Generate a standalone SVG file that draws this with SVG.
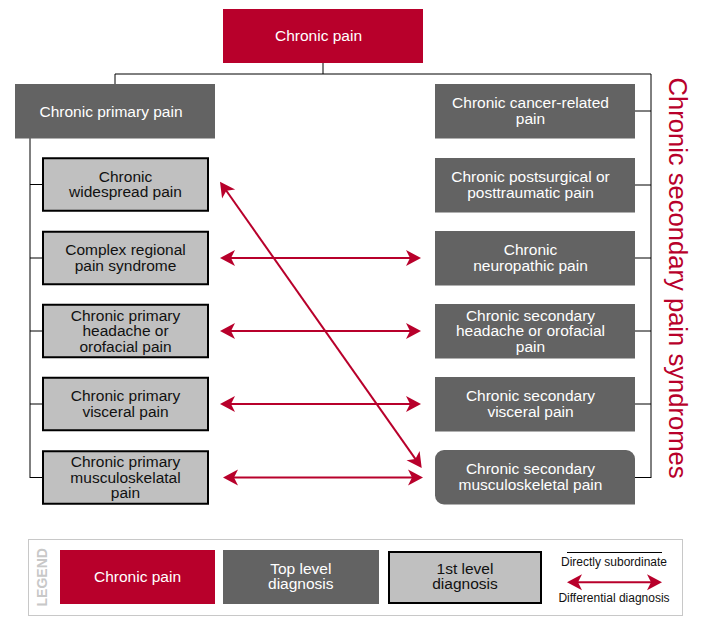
<svg xmlns="http://www.w3.org/2000/svg" width="714" height="624" viewBox="0 0 714 624">
<style>
text{font-family:"Liberation Sans",Arial,Helvetica,sans-serif;font-size:15.5px;text-anchor:middle}
.red{fill:#b8002b}
.dark{fill:#636363}
.light{fill:#c0c0c0;stroke:#000;stroke-width:2}
.w{fill:#fff}
.k{fill:#111}
.tree{stroke:#000;stroke-width:1;fill:none}
.dd{stroke:#b8002b;stroke-width:2;fill:none;marker-start:url(#ah);marker-end:url(#ah)}
.small{font-size:12px;fill:#111}
</style>
<defs>
<marker id="ah" markerUnits="userSpaceOnUse" viewBox="-16 -9 20 18" markerWidth="20" markerHeight="18" refX="-4" refY="0" orient="auto-start-reverse">
<path d="M0,0 L-15,-8 L-11,0 L-15,8 Z" fill="#b8002b"/>
</marker>
</defs>

<g id="connectors">
<path class="tree" d="M323,63 V74 M115,84 V74 H651 V478 M635,111 H651 M635,185 H651 M635,258 H651 M635,331 H651 M635,404 H651 M635,477.5 H651"/>
<path class="tree" d="M30,138 V478 M30,184.5 H42 M30,258 H42 M30,331 H42 M30,404 H42 M30,477.5 H42"/>
<line class="dd" x1="222.3" y1="185" x2="419.4" y2="464.7"/>
<line class="dd" x1="224" y1="258" x2="417" y2="258"/>
<line class="dd" x1="224" y1="331" x2="417" y2="331"/>
<line class="dd" x1="224" y1="404" x2="417" y2="404"/>
<line class="dd" x1="227" y1="477.5" x2="419" y2="477.5"/>
</g>

<g id="chronic-pain">
<rect class="red" x="223" y="9" width="200" height="54"/>
<text class="w" x="318.5" y="41">Chronic pain</text>
</g>

<g id="chronic-primary-pain">
<rect class="dark" x="15" y="84" width="200" height="54.5"/>
<text class="w" x="111" y="116.5">Chronic primary pain</text>
</g>

<g id="widespread">
<rect class="light" x="43" y="158.25" width="165" height="52.5"/>
<text class="k" x="125.5" y="181.6">Chronic</text>
<text class="k" x="125.5" y="197.3">widespread pain</text>
</g>
<g id="crps">
<rect class="light" x="43" y="231.75" width="165" height="52.5"/>
<text class="k" x="125.5" y="255.2">Complex regional</text>
<text class="k" x="125.5" y="270.9">pain syndrome</text>
</g>
<g id="primary-headache">
<rect class="light" x="43" y="304.75" width="165" height="52.5"/>
<text class="k" x="125.5" y="320.5">Chronic primary</text>
<text class="k" x="125.5" y="336.2">headache or</text>
<text class="k" x="125.5" y="351.9">orofacial pain</text>
</g>
<g id="primary-visceral">
<rect class="light" x="43" y="377.75" width="165" height="52.5"/>
<text class="k" x="125.5" y="401.2">Chronic primary</text>
<text class="k" x="125.5" y="416.9">visceral pain</text>
</g>
<g id="primary-msk">
<rect class="light" x="43" y="451.25" width="165" height="52.5"/>
<text class="k" x="125.5" y="467">Chronic primary</text>
<text class="k" x="125.5" y="482.7">musculoskelatal</text>
<text class="k" x="125.5" y="498.4">pain</text>
</g>

<g id="cancer">
<rect class="dark" x="435" y="84" width="200" height="54.5"/>
<text class="w" x="530.5" y="108.3">Chronic cancer-related</text>
<text class="w" x="530.5" y="124">pain</text>
</g>
<g id="postsurgical">
<rect class="dark" x="435" y="158" width="200" height="54.5"/>
<text class="w" x="530.5" y="182.1">Chronic postsurgical or</text>
<text class="w" x="530.5" y="197.8">posttraumatic pain</text>
</g>
<g id="neuropathic">
<rect class="dark" x="435" y="231" width="200" height="54.5"/>
<text class="w" x="530.5" y="255.2">Chronic</text>
<text class="w" x="530.5" y="270.9">neuropathic pain</text>
</g>
<g id="secondary-headache">
<rect class="dark" x="435" y="304" width="200" height="54.5"/>
<text class="w" x="530.5" y="320.5">Chronic secondary</text>
<text class="w" x="530.5" y="336.2">headache or orofacial</text>
<text class="w" x="530.5" y="351.9">pain</text>
</g>
<g id="secondary-visceral">
<rect class="dark" x="435" y="377" width="200" height="54.5"/>
<text class="w" x="530.5" y="401.2">Chronic secondary</text>
<text class="w" x="530.5" y="416.9">visceral pain</text>
</g>
<g id="secondary-msk">
<path class="dark" d="M444,450 H626 A9,9 0 0 1 635,459 V504.5 H444 A9,9 0 0 1 435,495.5 V459 A9,9 0 0 1 444,450 Z"/>
<text class="w" x="530.5" y="474.2">Chronic secondary</text>
<text class="w" x="530.5" y="489.9">musculoskeletal pain</text>
</g>

<g id="secondary-title">
<text class="red" transform="translate(668.5,278) rotate(90)" x="0" y="0" style="font-size:25.6px" textLength="401" lengthAdjust="spacingAndGlyphs">Chronic secondary pain syndromes</text>
</g>

<g id="legend">
<rect x="28.5" y="539.5" width="654" height="76" fill="none" stroke="#c8c8c8" stroke-width="1"/>
<text transform="translate(46.5,577.3) rotate(-90)" x="0" y="0" style="font-size:14px;font-weight:bold;fill:#c8c8c8">LEGEND</text>
<rect class="red" x="60" y="550" width="155" height="54"/>
<text class="w" x="137.5" y="582">Chronic pain</text>
<rect class="dark" x="223" y="550" width="156" height="54"/>
<text class="w" x="300.8" y="573.8">Top level</text>
<text class="w" x="300.8" y="589.3">diagnosis</text>
<rect class="light" x="389" y="552" width="152" height="51"/>
<text class="k" x="465" y="573.8">1st level</text>
<text class="k" x="465" y="589.3">diagnosis</text>
<line class="tree" x1="567" y1="552.5" x2="662" y2="552.5"/>
<text class="small" x="614" y="565.7">Directly subordinate</text>
<line class="dd" x1="571" y1="582.3" x2="658" y2="582.3"/>
<text class="small" x="614" y="602">Differential diagnosis</text>
</g>
</svg>
